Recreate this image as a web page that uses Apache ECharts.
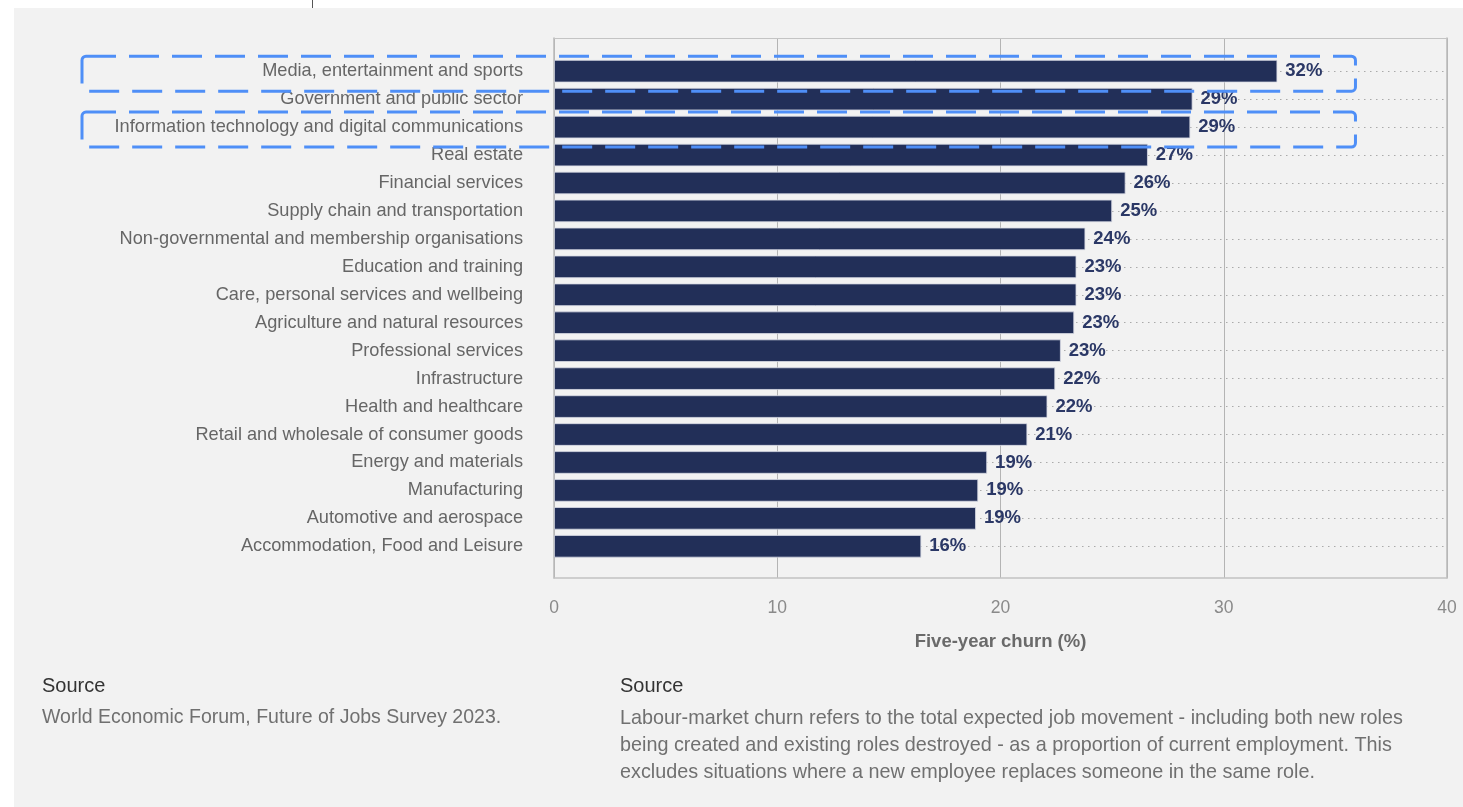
<!DOCTYPE html>
<html>
<head>
<meta charset="utf-8">
<script src="https://cdn.jsdelivr.net/npm/echarts@6/dist/echarts.min.js"></script>
<style>
  html, body { margin: 0; padding: 0; background: #fff; }
  #chart { width: 1463px; height: 807px; }
</style>
</head>
<body>
<div id="chart"></div>
<script>
const categories = [
  'Media, entertainment and sports',
  'Government and public sector',
  'Information technology and digital communications',
  'Real estate',
  'Financial services',
  'Supply chain and transportation',
  'Non-governmental and membership organisations',
  'Education and training',
  'Care, personal services and wellbeing',
  'Agriculture and natural resources',
  'Professional services',
  'Infrastructure',
  'Health and healthcare',
  'Retail and wholesale of consumer goods',
  'Energy and materials',
  'Manufacturing',
  'Automotive and aerospace',
  'Accommodation, Food and Leisure'
];
const churnValues = [32.4, 28.6, 28.5, 26.6, 25.6, 25.0, 23.8, 23.4, 23.4, 23.3, 22.7, 22.45, 22.1, 21.2, 19.4, 19.0, 18.9, 16.45];
const xTicks = [0, 10, 20, 30, 40];
const highlighted = ['Media, entertainment and sports', 'Information technology and digital communications'];
const highlightRightValue = 35.9;
const axisTitle = 'Five-year churn (%)';
const sourceTitle = 'Source';
const sourceText = 'World Economic Forum, Future of Jobs Survey 2023.';
const noteTitle = 'Source';
const noteLines = [
  'Labour-market churn refers to the total expected job movement - including both new roles',
  'being created and existing roles destroyed - as a proportion of current employment. This',
  'excludes situations where a new employee replaces someone in the same role.'
];

const FONT = '"Liberation Sans", Arial, Helvetica, sans-serif';
const chart = echarts.init(document.getElementById('chart'), null, { renderer: 'canvas' });

const footer = [];
footer.push({ type: 'text', left: 42, top: 676, style: { text: sourceTitle, font: '20px ' + FONT, fill: '#333' } });
footer.push({ type: 'text', left: 42, top: 708, style: { text: sourceText, font: '19.5px ' + FONT, fill: '#707070' } });
footer.push({ type: 'text', left: 620, top: 676, style: { text: noteTitle, font: '20px ' + FONT, fill: '#333' } });
noteLines.forEach((t, i) => {
  footer.push({ type: 'text', left: 620, top: 709 + i * 27, style: { text: t, font: '19.8px ' + FONT, fill: '#707070' } });
});

const option = {
  backgroundColor: '#ffffff',
  animation: false,
  textStyle: { fontFamily: FONT },
  grid: [
    { left: 554, right: 16, top: 38, bottom: 229 },
    { left: 554, right: 16, top: 71.2, bottom: 260.7 }
  ],
  xAxis: [
    {
      type: 'value', gridIndex: 0, min: 0, max: 40, interval: 10, position: 'bottom',
      axisLine: { show: true, onZero: false, lineStyle: { color: '#c2c2c2', width: 1.5 } },
      axisTick: { show: false },
      splitLine: { show: true, lineStyle: { color: '#b4b4b4', width: 1 } },
      axisLabel: { color: '#8a8a8a', fontSize: 17.5, margin: 21, fontFamily: FONT },
      name: axisTitle, nameLocation: 'middle', nameGap: 54,
      nameTextStyle: { color: '#6a6a6a', fontSize: 18.5, fontWeight: 'bold', fontFamily: FONT }
    },
    {
      type: 'value', gridIndex: 0, min: 0, max: 40, interval: 10, position: 'top',
      axisLine: { show: true, onZero: false, lineStyle: { color: '#c4c4c4', width: 1.2 } },
      axisTick: { show: false }, axisLabel: { show: false }, splitLine: { show: false }
    },
    {
      type: 'value', gridIndex: 1, min: 0, max: 40, interval: 10, show: false
    }
  ],
  yAxis: [
    {
      type: 'value', gridIndex: 0, min: 0, max: 1, position: 'left',
      axisLine: { show: true, onZero: false, lineStyle: { color: '#b8b8b8', width: 1.5 } },
      axisTick: { show: false }, axisLabel: { show: false }, splitLine: { show: false }
    },
    {
      type: 'value', gridIndex: 0, min: 0, max: 1, position: 'right',
      axisLine: { show: true, onZero: false, lineStyle: { color: '#b8b8b8', width: 1.5 } },
      axisTick: { show: false }, axisLabel: { show: false }, splitLine: { show: false }
    },
    {
      type: 'category', gridIndex: 1, data: categories, inverse: true, boundaryGap: false,
      axisLine: { show: false }, axisTick: { show: false },
      axisLabel: { color: '#666666', fontSize: 18.2, margin: 31, fontFamily: FONT, interval: 0, padding: [5, 0, 0, 0] },
      splitLine: { show: true, lineStyle: { color: '#aaaaaa', width: 1, type: [1.5, 4.5] } }
    }
  ],
  series: [
    {
      type: 'bar', xAxisIndex: 2, yAxisIndex: 2, data: churnValues, barWidth: 22.5, clip: false, z: 3,
      itemStyle: { color: '#222f58', borderColor: '#d8dbe4', borderWidth: 0.8 },
      label: {
        show: true, position: 'right', distance: 8,
        formatter: p => Math.round(p.value) + '%',
        color: '#2b3866', fontSize: 18.5, fontWeight: 'bold', fontFamily: FONT
      }
    }
  ],
  graphic: [
    { type: 'rect', z: -100, silent: true, shape: { x: 14, y: 8, width: 1449, height: 799 }, style: { fill: '#f2f2f2' } },
    { type: 'line', z: -90, silent: true, shape: { x1: 312.5, y1: 0, x2: 312.5, y2: 8 }, style: { stroke: '#555', lineWidth: 1 } }
  ].concat(footer)
};
chart.setOption(option);

// highlight boxes positioned from the category axis
const boxes = highlighted.map((cat) => {
  const cy = chart.convertToPixel({ yAxisIndex: 2 }, cat);
  const xr = chart.convertToPixel({ xAxisIndex: 2 }, highlightRightValue);
  return {
    type: 'rect', z: 200, silent: true,
    shape: { x: 82, y: cy - 15, width: xr - 82, height: 35, r: 4 },
    style: { fill: 'none', stroke: '#4f8ff7', lineWidth: 3, lineDash: [30, 13] }
  };
});
chart.setOption({ graphic: option.graphic.concat(boxes) });
</script>
</body>
</html>
